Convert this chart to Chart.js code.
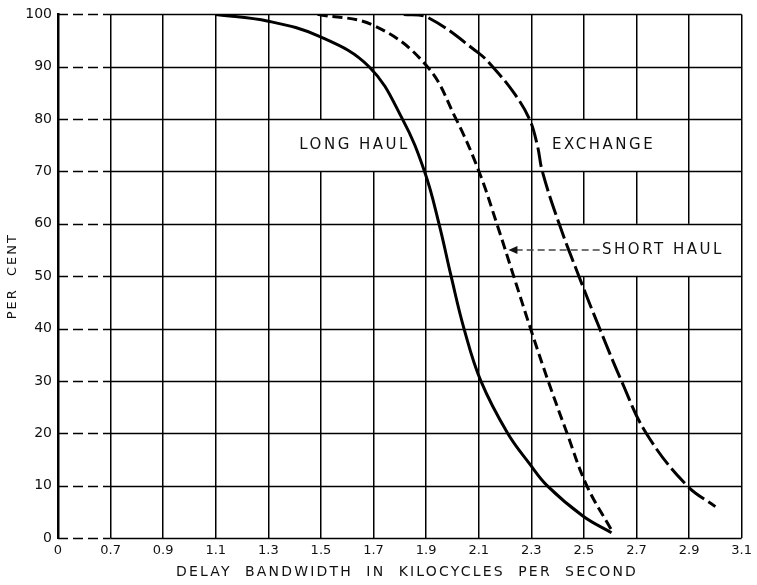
<!DOCTYPE html>
<html>
<head>
<meta charset="utf-8">
<script src="https://cdn.jsdelivr.net/npm/chart.js@4/dist/chart.umd.min.js"></script>
<style>
  html, body { margin: 0; padding: 0; background: #fff; }
  #wrap { width: 757px; height: 585px; }
</style>
</head>
<body>
<div id="wrap"><canvas id="myChart" width="757" height="585"></canvas></div>
<script>
// axis ticks (the axis is broken between 0 and 0.7, so "0" sits at 0.5)
const xTickValues = [0.5, 0.7, 0.9, 1.1, 1.3, 1.5, 1.7, 1.9, 2.1, 2.3, 2.5, 2.7, 2.9, 3.1];
const xTickLabels = ["0", "0.7", "0.9", "1.1", "1.3", "1.5", "1.7", "1.9", "2.1", "2.3", "2.5", "2.7", "2.9", "3.1"];
const yTickValues = [0, 10, 20, 30, 40, 50, 60, 70, 80, 90, 100];

// curves (kc/s, per cent)
const longHaulX = [1.1, 1.3, 1.494, 1.683, 1.81, 1.894, 1.949, 1.995, 2.044, 2.108, 2.21, 2.293, 2.36, 2.496, 2.605];
const longHaulY = [100, 98.7, 95.8, 90, 80, 70, 60, 50, 40, 30, 20, 14.2, 10, 4.2, 1];

const shortHaulX = [1.487, 1.7, 1.9, 2.014, 2.101, 2.169, 2.233, 2.297, 2.364, 2.436, 2.511, 2.605];
const shortHaulY = [100, 97.9, 90.3, 80, 70, 60, 50, 40, 30, 20, 10, 1.5];

const exchangeX = [1.815, 1.9, 2.1, 2.153, 2.234, 2.293, 2.323, 2.342, 2.406, 2.481, 2.56, 2.643, 2.737, 2.892, 3.0];
const exchangeY = [100, 99.6, 92.6, 90, 85, 80, 75, 70, 60, 50, 40, 30, 20, 10, 6];

// labels drawn inside the grid, each on a blanked cell strip
const noteTexts = ["LONG HAUL", "EXCHANGE", "SHORT HAUL"];
const noteBoxes = [[1.3, 1.9, 70, 80], [2.3, 2.9, 70, 80], [2.3, 3.1, 50, 60]];
const noteAt = [[1.628, 75], [2.575, 75], [2.569, 55]];

const toPoints = (xs, ys) => xs.map((v, i) => ({ x: v, y: ys[i] }));

const FONT = "'DejaVu Sans', sans-serif";

const gridPlugin = {
  id: "gridPlugin",
  beforeDatasetsDraw(chart) {
    const { ctx, chartArea } = chart;
    const x = chart.scales.x;
    const y = chart.scales.y;
    ctx.save();
    // white strips behind the labels
    ctx.fillStyle = "#fff";
    noteBoxes.forEach((b) => {
      const x0 = x.getPixelForValue(b[0]) + 1.5;
      const x1 = x.getPixelForValue(b[1]) - 1.5;
      const y0 = y.getPixelForValue(b[3]);
      const y1 = y.getPixelForValue(b[2]);
      ctx.fillRect(x0, y0, x1 - x0, y1 - y0);
    });
    // horizontal rules: dashed across the break, solid after it
    const breakX = x.getPixelForValue(0.7);
    ctx.strokeStyle = "#000";
    ctx.lineWidth = 1.5;
    yTickValues.forEach((v) => {
      const py = Math.round(y.getPixelForValue(v)) + 0.5;
      ctx.setLineDash([10, 5]);
      ctx.beginPath();
      ctx.moveTo(chartArea.left, py);
      ctx.lineTo(breakX, py);
      ctx.stroke();
      ctx.setLineDash([]);
      ctx.beginPath();
      ctx.moveTo(breakX, py);
      ctx.lineTo(chartArea.right, py);
      ctx.stroke();
    });
    ctx.restore();
  },
  afterDraw(chart) {
    const { ctx, chartArea } = chart;
    const x = chart.scales.x;
    const y = chart.scales.y;
    ctx.save();
    ctx.fillStyle = "#111";
    ctx.textBaseline = "middle";
    ctx.letterSpacing = "2.5px";
    ctx.font = "15px " + FONT;
    // curve labels
    noteTexts.forEach((t, i) => {
      ctx.textAlign = i === 2 ? "left" : "center";
      ctx.fillText(t, x.getPixelForValue(noteAt[i][0]), y.getPixelForValue(noteAt[i][1]));
    });
    // arrow for SHORT HAUL
    const ay = y.getPixelForValue(55);
    const ax0 = x.getPixelForValue(2.56);
    const ax1 = x.getPixelForValue(2.213);
    ctx.strokeStyle = "#444";
    ctx.lineWidth = 1.5;
    ctx.setLineDash([7, 4]);
    ctx.beginPath();
    ctx.moveTo(ax0, ay);
    ctx.lineTo(ax1 + 6, ay);
    ctx.stroke();
    ctx.setLineDash([]);
    ctx.fillStyle = "#111";
    ctx.beginPath();
    ctx.moveTo(ax1, ay);
    ctx.lineTo(ax1 + 9, ay - 4);
    ctx.lineTo(ax1 + 9, ay + 4);
    ctx.closePath();
    ctx.fill();
    // axis titles
    ctx.font = "14px " + FONT;
    ctx.textAlign = "center";
    ctx.letterSpacing = "2.2px";
    ctx.fillText("DELAY  BANDWIDTH  IN  KILOCYCLES  PER  SECOND", 407, 572);
    ctx.translate(13, (chartArea.top + chartArea.bottom) / 2);
    ctx.rotate(-Math.PI / 2);
    ctx.letterSpacing = "2px";
    ctx.font = "13px " + FONT;
    ctx.fillText("PER  CENT", 0, 0);
    ctx.restore();
  },
};

const lineSet = (label, xs, ys, dash) => ({
  label: label,
  data: toPoints(xs, ys),
  borderColor: "#000",
  borderWidth: 3,
  borderDash: dash,
  pointRadius: 0,
  fill: false,
  tension: 0.4,
});

const config = {
  type: "line",
  data: {
    datasets: [
      lineSet("LONG HAUL", longHaulX, longHaulY, []),
      lineSet("SHORT HAUL", shortHaulX, shortHaulY, [10, 5]),
      lineSet("EXCHANGE", exchangeX, exchangeY, [20, 5]),
    ],
  },
  options: {
    responsive: false,
    animation: false,
    layout: { padding: { top: 11, right: 9, left: 0, bottom: 0 } },
    plugins: {
      legend: { display: false },
      tooltip: { enabled: false },
    },
    scales: {
      x: {
        type: "linear",
        min: 0.5,
        max: 3.1,
        afterBuildTicks: (s) => {
          s.ticks = xTickValues.map((v) => ({ value: v }));
        },
        afterFit: (s) => {
          s.height = 47;
        },
        ticks: {
          autoSkip: false,
          maxRotation: 0,
          padding: 5,
          color: "#111",
          font: { family: FONT, size: 13 },
          callback: (v, i) => xTickLabels[i],
        },
        grid: { color: "#000", lineWidth: 1.5, drawTicks: false },
        border: { display: false },
      },
      y: {
        min: 0,
        max: 100,
        afterBuildTicks: (s) => {
          s.ticks = yTickValues.map((v) => ({ value: v }));
        },
        afterFit: (s) => {
          s.width = 58;
        },
        ticks: {
          padding: 6,
          color: "#111",
          font: { family: FONT, size: 14 },
        },
        grid: { display: false, drawTicks: false },
        border: { display: true, color: "#000", width: 2.5 },
      },
    },
  },
  plugins: [gridPlugin],
};

const chart = new Chart(document.getElementById("myChart"), config);
</script>
</body>
</html>
